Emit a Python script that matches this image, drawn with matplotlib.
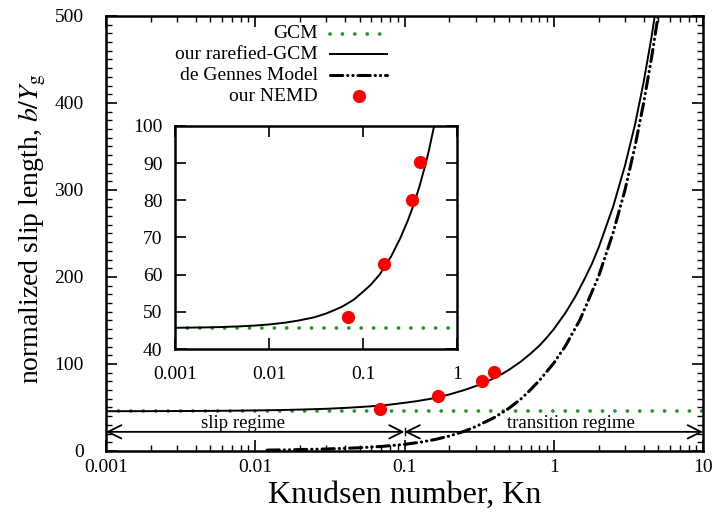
import numpy as np
import matplotlib
matplotlib.use('Agg')
import matplotlib.pyplot as plt
from matplotlib.lines import Line2D
from matplotlib.ticker import FixedLocator, FixedFormatter, LogLocator, MultipleLocator, NullFormatter

plt.rcParams['font.family'] = ['Liberation Serif', 'DejaVu Serif']
plt.rcParams['mathtext.fontset'] = 'stix'

# values
kn_gcm = [0.001, 10]
b_gcm = [45.6, 45.6]

kn_rgcm = [0.001, 0.002, 0.003, 0.005, 0.007, 0.01, 0.015, 0.02, 0.03, 0.04,
           0.05, 0.06, 0.07, 0.08, 0.1, 0.12, 0.15, 0.2, 0.25, 0.3,
           0.35, 0.4, 0.45, 0.5, 0.6, 0.7, 0.8, 0.9, 1.0, 1.2,
           1.4, 1.6, 1.8, 2.0, 2.5, 3.0, 3.5, 4.0, 4.5, 4.75]
b_rgcm = [45.7, 45.8, 45.9, 46.1, 46.3, 46.6, 47.1, 47.6, 48.5, 49.5,
          50.5, 51.4, 52.4, 53.3, 55.4, 57.2, 60.0, 65.0, 69.9, 74.6,
          79.2, 83.9, 88.6, 93.2, 102.6, 112.0, 121.0, 130.5, 140.0, 159.0,
          178.0, 197.0, 215.0, 234.0, 281.0, 328.0, 375.0, 424.0, 474.0, 500.0]

kn_dg = [0.012, 0.02, 0.03, 0.05, 0.07, 0.1, 0.13, 0.16, 0.2, 0.25,
         0.3, 0.4, 0.5, 0.6, 0.7, 0.8, 1.0, 1.2, 1.5, 2.0,
         2.5, 3.0, 3.5, 4.0, 4.5, 5.0]
b_dg = [1.0, 1.6, 2.3, 3.7, 5.2, 7.6, 10.3, 13.2, 17.2, 22.5,
        28.0, 38.5, 49.0, 59.5, 70.5, 81.0, 101.0, 121.0, 151.0, 201.0,
        251.0, 300.0, 350.0, 400.0, 450.0, 500.0]

kn_nemd = [0.069, 0.167, 0.33, 0.40]
b_nemd = [48.5, 63.0, 80.0, 90.3]

legend_labels = ['GCM', 'our rarefied-GCM', 'de Gennes Model', 'our NEMD']
regime_edges = [0.001, 0.1, 10]
regime_names = ['slip regime', 'transition regime']
regime_text_x = [0.0083, 1.3]

green = '#229922'
dg_style = (0, (4, 1.6, 0.1, 1.6, 0.1, 1.6))
gcm_style = (0, (0.01, 3.3))

fig = plt.figure(figsize=(7.13, 5.14), dpi=100)
ax = fig.add_axes([0.1487, 0.1226, 0.8373, 0.8463])

ax.plot(kn_gcm, b_gcm, linestyle=gcm_style, color=green, lw=2.7,
        dash_capstyle='round')
ax.plot(kn_rgcm, b_rgcm, '-', color='k', lw=1.4)
ax.plot(kn_dg, b_dg, linestyle=dg_style, color='k', lw=2.2,
        dash_capstyle='round')
ax.plot(kn_nemd, b_nemd, 'o', color='red', ms=9.5, mec='none', zorder=5)

ax.set_xscale('log')
ax.set_xlim(0.001, 10)
ax.set_ylim(0, 500)

ax.xaxis.set_major_locator(FixedLocator([0.001, 0.01, 0.1, 1, 10]))
ax.xaxis.set_major_formatter(FixedFormatter(['0.001', '0.01', '0.1', '1', '10']))
ax.xaxis.set_minor_locator(LogLocator(base=10, subs=np.arange(2, 10)))
ax.xaxis.set_minor_formatter(NullFormatter())
ax.yaxis.set_major_locator(MultipleLocator(100))
ax.yaxis.set_minor_locator(MultipleLocator(10))
ax.tick_params(which='both', direction='in', top=True, right=True, labelsize=14)
ax.tick_params(which='major', length=8, width=1.2)
ax.tick_params(which='minor', length=4, width=1.0)
ax.tick_params(axis='x', which='major', pad=6)
ax.tick_params(axis='y', which='major', pad=16)
for s in ax.spines.values():
    s.set_linewidth(1.8)

ax.set_xlabel('Knudsen number, Kn', fontsize=23)
ax.xaxis.set_label_coords(0.5, -0.068)
ax.set_ylabel(r'normalized slip length, $b/Y_{\rm g}$', fontsize=20)
ax.yaxis.set_label_coords(-0.097, 0.51)

# regime arrows
arrow_y = 22
for i in range(2):
    ax.annotate('', xy=(regime_edges[i], arrow_y), xytext=(regime_edges[i + 1], arrow_y),
                arrowprops=dict(arrowstyle='<->', lw=1.3, color='k', mutation_scale=24,
                                shrinkA=0, shrinkB=0))
    ax.text(regime_text_x[i], 32, regime_names[i], ha='center', va='center', fontsize=13.5)
ax.plot([regime_edges[1], regime_edges[1]], [arrow_y - 4, arrow_y + 4], color='k', lw=1.0)

# key, gnuplot style: right-aligned text, sample on the right
key_handles = [
    dict(linestyle=gcm_style, color=green, lw=2.7, dash_capstyle='round'),
    dict(linestyle='-', color='k', lw=1.4),
    dict(linestyle=dg_style, color='k', lw=2.2, dash_capstyle='round'),
    None,
]
key_y = [0.959, 0.912, 0.864, 0.816]
for lab, hs, y in zip(legend_labels, key_handles, key_y):
    ax.text(0.355, y, lab, transform=ax.transAxes, ha='right', va='center', fontsize=14)
    if hs is None:
        ax.add_line(Line2D([0.423], [y], transform=ax.transAxes, marker='o', ls='none',
                           color='red', ms=9.5, mec='none'))
    else:
        ax.add_line(Line2D([0.375, 0.471], [y, y], transform=ax.transAxes, **hs))

# inset
axi = fig.add_axes([0.2454, 0.321, 0.3956, 0.4339])
axi.plot(kn_gcm, b_gcm, linestyle=gcm_style, color=green, lw=2.7, dash_capstyle='round')
axi.plot(kn_rgcm, b_rgcm, '-', color='k', lw=1.4)
axi.plot(kn_nemd, b_nemd, 'o', color='red', ms=9.5, mec='none', zorder=5)
axi.set_xscale('log')
axi.set_xlim(0.001, 1)
axi.set_ylim(40, 100)
axi.xaxis.set_major_locator(FixedLocator([0.001, 0.01, 0.1, 1]))
axi.xaxis.set_major_formatter(FixedFormatter(['0.001', '0.01', '0.1', '1']))
axi.xaxis.set_minor_locator(FixedLocator([]))
axi.yaxis.set_major_locator(MultipleLocator(10))
axi.tick_params(which='both', direction='in', top=True, right=True, labelsize=14,
                length=8, width=1.2)
axi.tick_params(axis='x', pad=12)
axi.tick_params(axis='y', pad=9)
for s in axi.spines.values():
    s.set_linewidth(1.8)

fig.savefig('out.png', dpi=100)
